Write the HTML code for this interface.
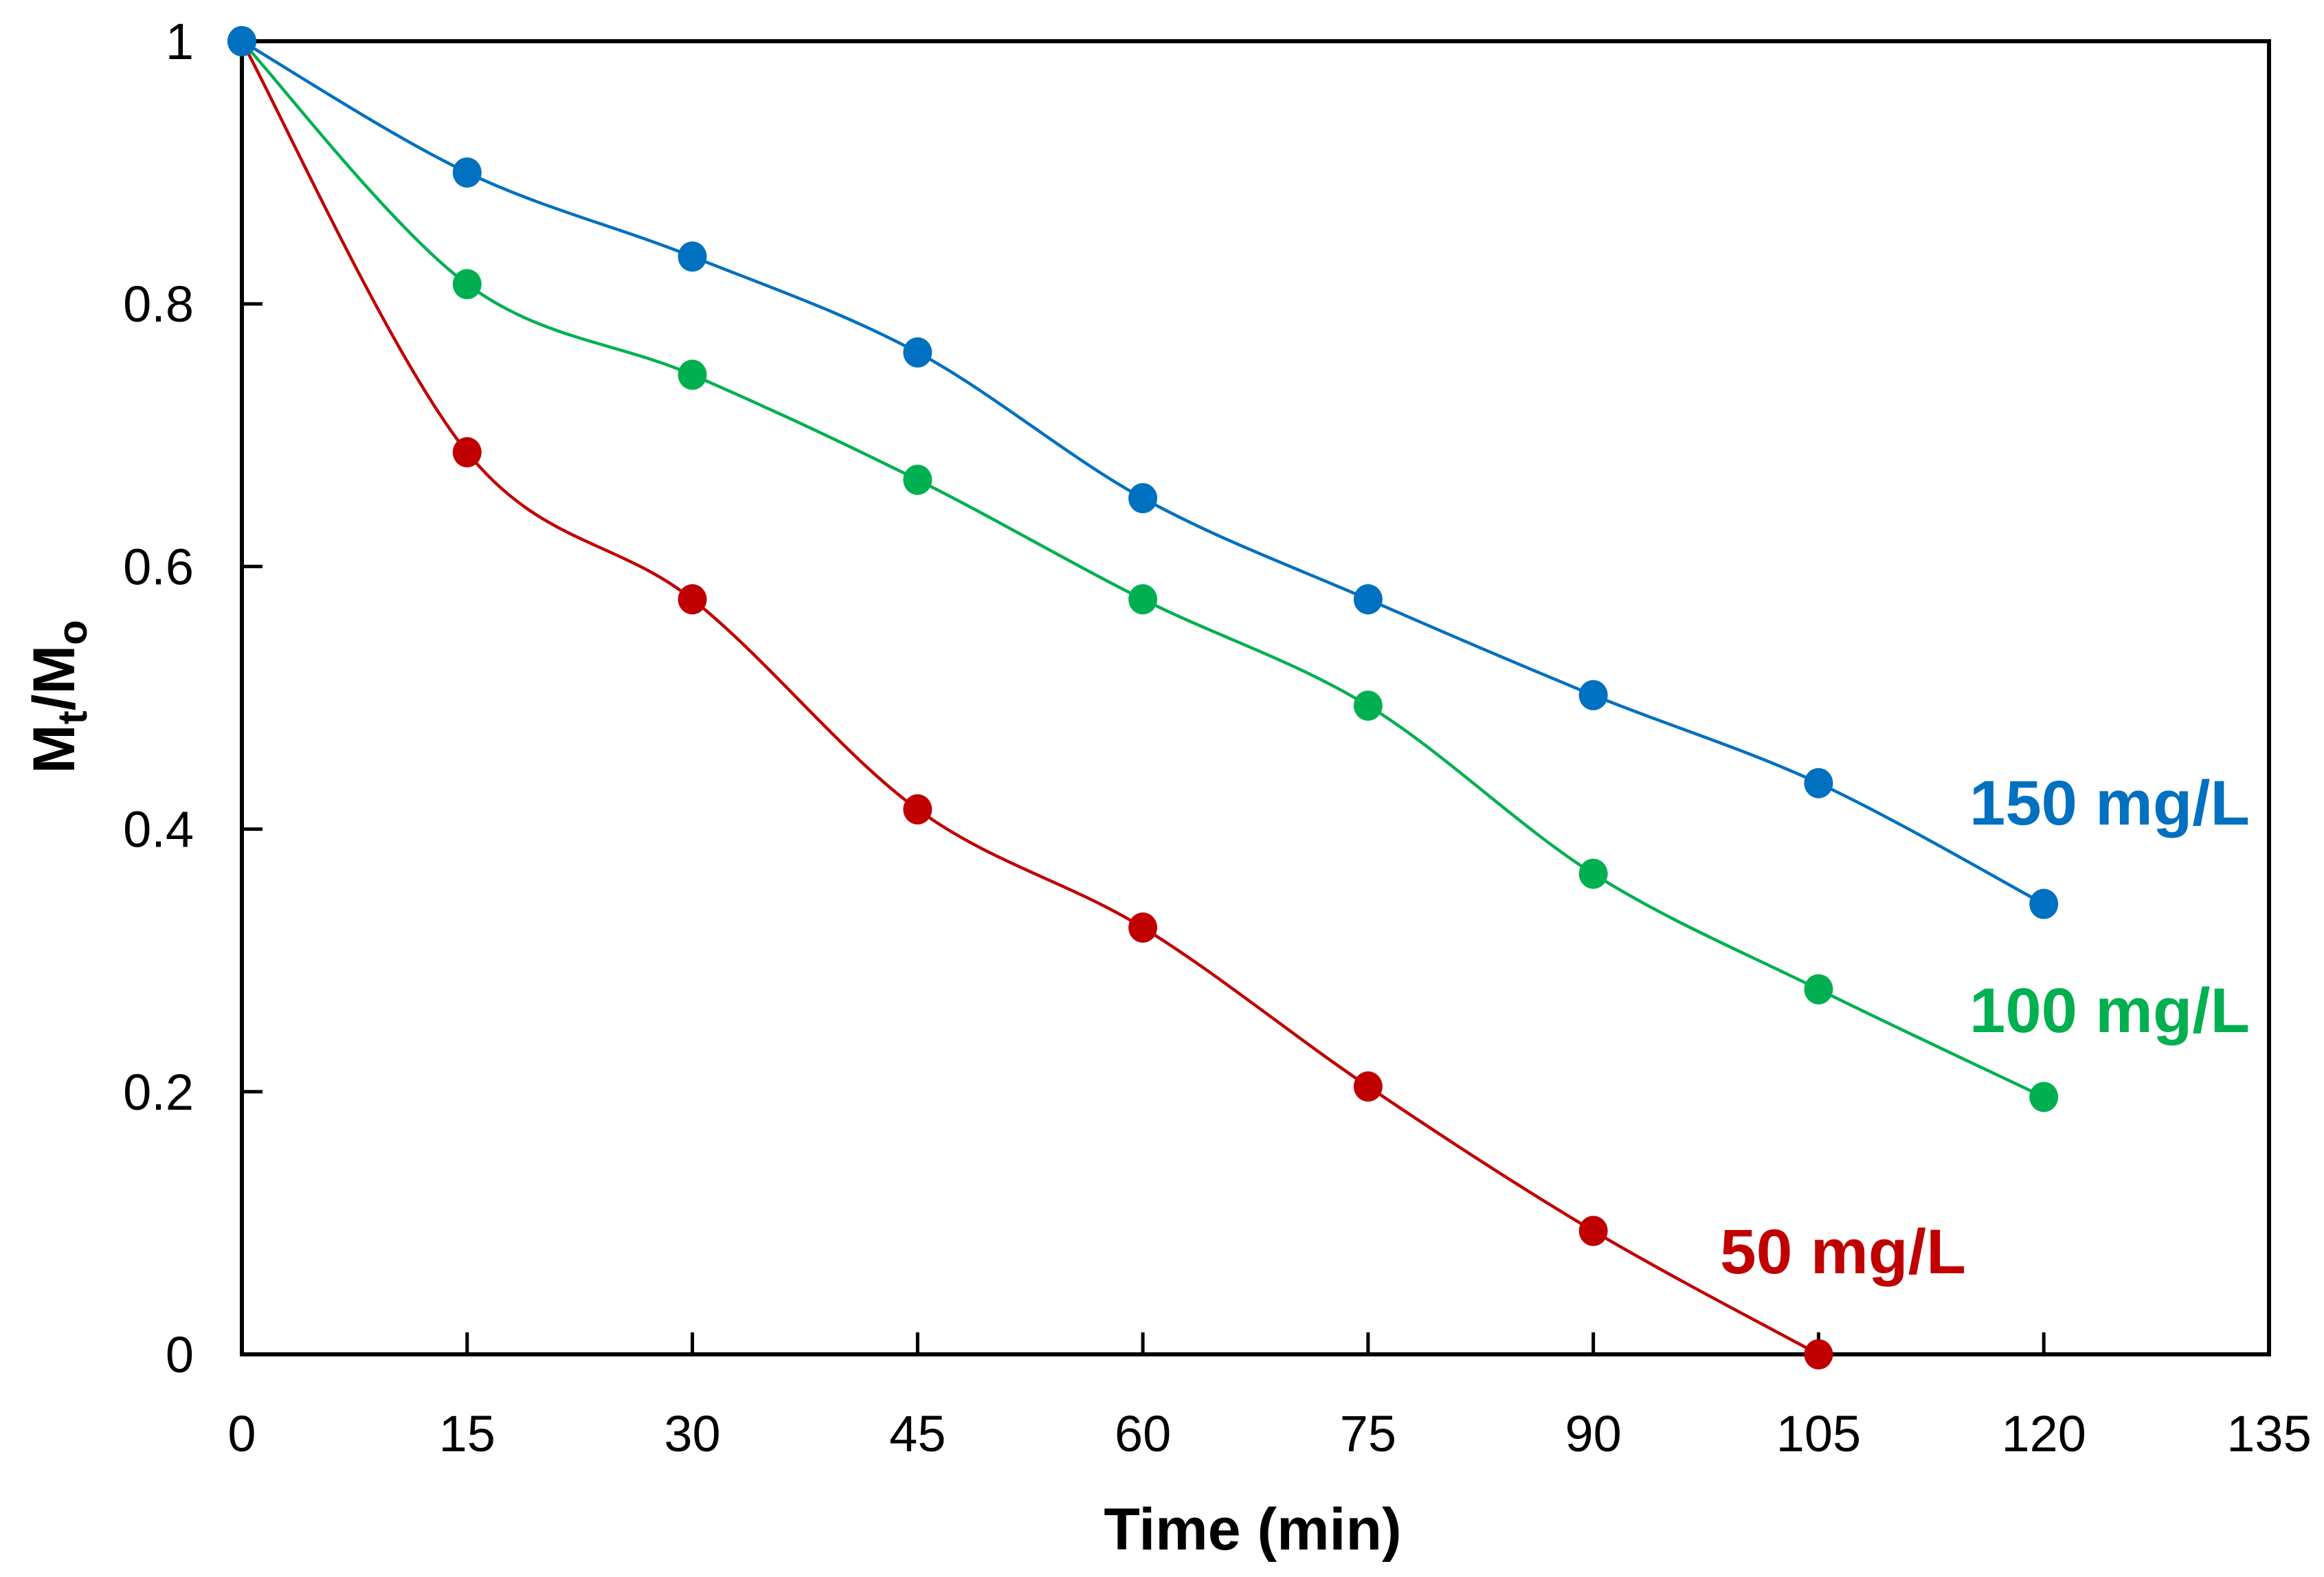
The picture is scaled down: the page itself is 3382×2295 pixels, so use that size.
<!DOCTYPE html>
<html><head><meta charset="utf-8"><style>
html,body{margin:0;padding:0;background:#fff;}
svg{display:block;}
text{font-family:"Liberation Sans",sans-serif;}
</style></head><body>
<svg id="chart" width="3382" height="2295" viewBox="0 0 3382 2295" xmlns="http://www.w3.org/2000/svg">
<rect x="0" y="0" width="3382" height="2295" fill="#fff"/>
<g id="plot"></g>
</svg>
<script>
const times = [0, 15, 30, 45, 60, 75, 90, 105, 120];
const s150 = [1, 0.900, 0.836, 0.763, 0.652, 0.575, 0.502, 0.435, 0.343];
const s100 = [1, 0.815, 0.746, 0.666, 0.575, 0.494, 0.366, 0.278, 0.196];
const s50 = [1, 0.687, 0.575, 0.415, 0.325, 0.204, 0.094, 0.0];
const xTicks = [0, 15, 30, 45, 60, 75, 90, 105, 120, 135];
const yTicks = [0, 0.2, 0.4, 0.6, 0.8, 1];
const yTickLabels = ["0", "0.2", "0.4", "0.6", "0.8", "1"];

const L = 352, R = 3302, T = 60, B = 1971;
const xMin = 0, xMax = 135, yMin = 0, yMax = 1;
function xs(v){ return L + (v - xMin) / (xMax - xMin) * (R - L); }
function ys(v){ return B - (v - yMin) / (yMax - yMin) * (B - T); }
const NS = "http://www.w3.org/2000/svg";
const g = document.getElementById('plot');
function mk(tag, attrs, parent){
  const e = document.createElementNS(NS, tag);
  for (const k in attrs) e.setAttribute(k, attrs[k]);
  (parent || g).appendChild(e);
  return e;
}

const frame = mk('rect', {x:L, y:T, width:R-L, height:B-T, fill:'none', stroke:'#000', 'stroke-width':6});



xTicks.forEach(function(v){
  const t = mk('line', {x1:xs(v), x2:xs(v), y1:B, y2:B-32, stroke:'#000', 'stroke-width':5});
  
  
  const lb = mk('text', {x:xs(v), y:2112, 'text-anchor':'middle', 'font-size':74, fill:'#000'});
  lb.textContent = String(v);
  
  
});
yTicks.forEach(function(v, i){
  const t = mk('line', {x1:L, x2:L+30, y1:ys(v), y2:ys(v), stroke:'#000', 'stroke-width':5});
  
  
  const lb = mk('text', {x:282, y:ys(v)+26, 'text-anchor':'end', 'font-size':74, fill:'#000'});
  lb.textContent = yTickLabels[i];
  
  
});

function smoothPath(xv, yv){
  const p = xv.map(function(x, i){ return [xs(x), ys(yv[i])]; });
  let d = 'M' + p[0][0] + ',' + p[0][1];
  for (let i = 0; i < p.length - 1; i++){
    const p0 = p[Math.max(0, i-1)], p1 = p[i], p2 = p[i+1], p3 = p[Math.min(p.length-1, i+2)];
    const c1x = p1[0] + (p2[0]-p0[0])/6, c1y = p1[1] + (p2[1]-p0[1])/6;
    const c2x = p2[0] - (p3[0]-p1[0])/6, c2y = p2[1] - (p3[1]-p1[1])/6;
    d += ' C' + c1x + ',' + c1y + ' ' + c2x + ',' + c2y + ' ' + p2[0] + ',' + p2[1];
  }
  return d;
}
function drawSeries(vals, color, name){
  const tx = times.slice(0, vals.length);
  const path = mk('path', {d:smoothPath(tx, vals), fill:'none', stroke:color, 'stroke-width':4.5});
  
  
  vals.forEach(function(v, i){
    const c = mk('ellipse', {cx:xs(tx[i]), cy:ys(v), rx:21, ry:22, fill:color});
    
    
  });
}
drawSeries(s50, '#C00000', 'series-50');
drawSeries(s100, '#00B050', 'series-100');
drawSeries(s150, '#0070C0', 'series-150');

function label(txt, x, y, color, w, name){
  const t = mk('text', {x:x, y:y, 'font-size':92, 'font-weight':'bold', fill:color, textLength:w, lengthAdjust:'spacingAndGlyphs'});
  t.textContent = txt;
  
  
}
label('150 mg/L', 2866, 1200, '#0070C0', 408, 'label-150-mg-l');
label('100 mg/L', 2866, 1502, '#00B050', 408, 'label-100-mg-l');
label('50 mg/L', 2503, 1853, '#C00000', 358, 'label-50-mg-l');

const xt = mk('text', {x:1823, y:2255, 'text-anchor':'middle', 'font-size':86, 'font-weight':'bold', fill:'#000'});
xt.textContent = 'Time (min)';



const yt = mk('text', {x:0, y:0, 'text-anchor':'middle', 'font-size':86, 'font-weight':'bold', fill:'#000', transform:'translate(108,1014) rotate(-90)'});
yt.innerHTML = 'M<tspan font-size="60" dy="18">t</tspan><tspan dy="-18">/M</tspan><tspan font-size="60" dy="18">o</tspan>';


</script>
</body></html>
